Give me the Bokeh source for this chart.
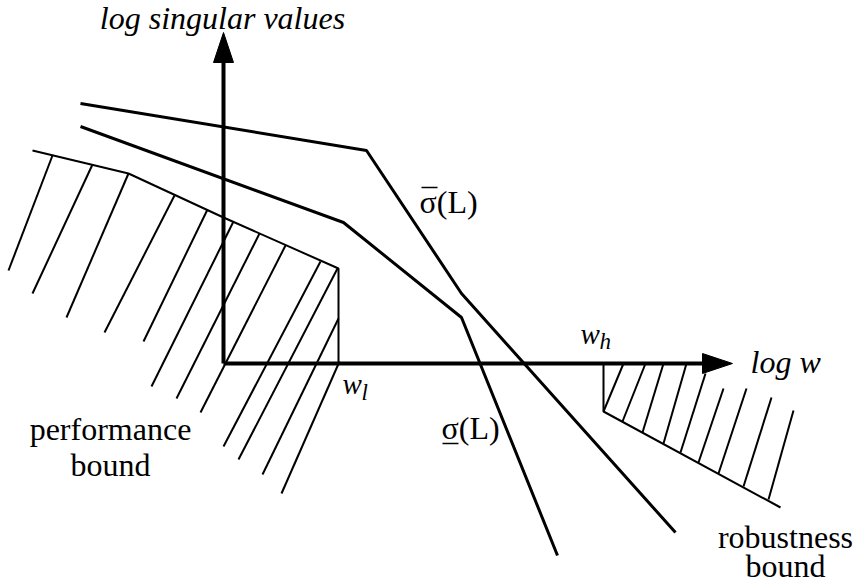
from bokeh.plotting import figure
from bokeh.models import Range1d
from bokeh.embed import file_html
from bokeh.resources import INLINE
from bokeh.core.properties import value

W, H = 855, 582

# Axes geometry (y grows downward, like a drawing canvas)
origin_x, origin_y = 223, 363
y_axis_top = 32
x_axis_end = 732
head_len, head_half = 30, 10

# Largest and smallest singular value of the loop gain L
sigma_max_x = [80, 366, 461, 675]
sigma_max_y = [103, 150, 293, 532]
sigma_min_x = [80, 343, 461, 557]
sigma_min_y = [126, 222, 317, 555]

# Low-frequency performance bound and its hatching
perf_x = [32, 128, 223, 338, 338]
perf_y = [150, 173, 217, 268, 363]
perf_hatch_x0 = [52, 92, 128, 174, 207, 233, 259, 285, 320, 337, 338, 339]
perf_hatch_y0 = [155, 164, 173, 195, 209, 221, 233, 245, 261, 268, 318, 361]
perf_hatch_x1 = [8, 32, 66, 104, 143, 151, 176, 200, 223, 238, 262, 281]
perf_hatch_y1 = [270, 293, 317, 332, 341, 386, 398, 412, 446, 459, 474, 493]

# High-frequency robustness bound and its hatching
rob_x = [603, 603, 780]
rob_y = [363, 411, 507]
rob_hatch_x0 = [603, 622, 642, 663, 680, 698, 718, 743, 768]
rob_hatch_y0 = [411, 421, 432, 443, 452, 462, 473, 486, 499]
rob_hatch_x1 = [623, 645, 663, 686, 705, 723, 746, 771, 793]
rob_hatch_y1 = [363, 363, 363, 363, 373, 388, 388, 397, 410]

SERIF = value("Liberation Serif")

p = figure(width=W, height=H, x_range=Range1d(0, W), y_range=Range1d(H, 0),
           output_backend="svg", toolbar_location=None, min_border=0)
p.axis.visible = False
p.grid.visible = False
p.outline_line_color = None
p.background_fill_color = "white"
p.border_fill_color = "white"

# coordinate axes with arrow heads
p.line([origin_x, origin_x], [origin_y, y_axis_top + head_len - 2], line_width=4, line_color="black")
p.line([origin_x, x_axis_end - head_len + 2], [origin_y, origin_y], line_width=4, line_color="black")
p.patch([origin_x, origin_x - head_half, origin_x + head_half],
        [y_axis_top, y_axis_top + head_len, y_axis_top + head_len],
        fill_color="black", line_color="black")
p.patch([x_axis_end, x_axis_end - head_len, x_axis_end - head_len],
        [origin_y, origin_y - head_half, origin_y + head_half],
        fill_color="black", line_color="black")

# bounds
p.line(perf_x, perf_y, line_width=2, line_color="black")
p.multi_line([[a, b] for a, b in zip(perf_hatch_x0, perf_hatch_x1)],
             [[a, b] for a, b in zip(perf_hatch_y0, perf_hatch_y1)],
             line_width=2, line_color="black")
p.line(rob_x, rob_y, line_width=2, line_color="black")
p.multi_line([[a, b] for a, b in zip(rob_hatch_x0, rob_hatch_x1)],
             [[a, b] for a, b in zip(rob_hatch_y0, rob_hatch_y1)],
             line_width=2, line_color="black")

# singular value curves
p.line(sigma_max_x, sigma_max_y, line_width=3, line_color="black")
p.line(sigma_min_x, sigma_min_y, line_width=3, line_color="black")

def label(x, y, txt, size="32px", style="normal", align="left"):
    p.text(x=[x], y=[y], text=[txt], text_font=SERIF, text_font_size=size,
           text_font_style=style, text_align=align, text_baseline="alphabetic",
           text_color="black")

label(222, 17, "log singular values", style="italic", align="center")
label(750, 361, "log w", style="italic")
label(419, 201, "σ(L)", size="32px")
p.line([421, 437], [187, 187], line_width=1.5, line_color="black")
label(441, 427, "σ(L)", size="32px")
p.line([442, 458], [443, 443], line_width=1.5, line_color="black")
label(342, 383, "w", size="29px", style="italic")
label(361, 392, "l", size="23px", style="italic")
label(580, 333, "w", size="29px", style="italic")
label(599, 341, "h", size="23px", style="italic")
label(110, 428, "performance", align="center")
label(110, 464, "bound", align="center")
label(785, 536, "robustness", align="center")
label(785, 565, "bound", align="center")

open("out.html", "w").write(file_html(p, INLINE))
